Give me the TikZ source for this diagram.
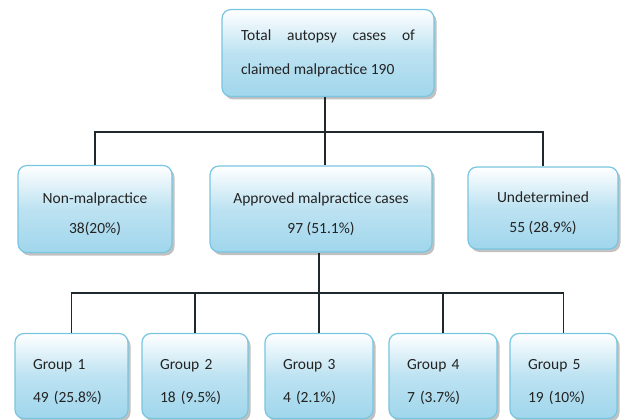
\documentclass[tikz,border=0pt]{standalone}
\usepackage{fontspec}
\setmainfont{Carlito}
\usetikzlibrary{shadows}
\definecolor{boxline}{RGB}{120,198,225}
\definecolor{boxfill}{RGB}{160,214,236}
\definecolor{conn}{RGB}{30,40,45}
\definecolor{txt}{RGB}{35,35,35}
\newcommand{\dn}{\rule{0pt}{22pt}}
\tikzset{
  box/.style={draw=boxline, line width=1.2pt, rounded corners=9pt,
    top color=white, bottom color=boxfill, middle color=white!30!boxfill,
    drop shadow={shadow xshift=2.5pt, shadow yshift=-3pt, fill=black!40, opacity=0.6},
    font=\fontsize{15.5}{18}\selectfont, text=txt, inner sep=0pt, align=center},
  grp/.style={box, align=left, text width=#1-36pt, inner xsep=18pt, minimum height=85pt},
  conn/.style={draw=conn, line width=1.6pt}
}
\begin{document}
\begin{tikzpicture}[x=1pt,y=-1pt]
\useasboundingbox[fill=white] (0,0) rectangle (625,420);
\node[box, minimum width=212pt, minimum height=87pt] (top) at (328,53)
  {\makebox[174pt][s]{Total autopsy cases of}\\[16pt]\makebox[174pt][l]{claimed malpractice 190}};
\node[box, minimum width=154pt, minimum height=87pt] (nonm) at (95,209)
  {\dn Non-malpractice\\[12pt]38(20\%)};
\node[box, minimum width=222pt, minimum height=86pt] (appr) at (321,209)
  {\dn Approved malpractice cases\\[12pt]97 (51.1\%)};
\node[box, minimum width=150pt, minimum height=82pt] (undet) at (543,208)
  {\dn Undetermined\\[12pt]55 (28.9\%)};
\node[grp=113pt] (g1) at (71.5,376) {\dn Group 1\\[15pt]49 (25.8\%)};
\node[grp=106pt] (g2) at (195,376) {\dn Group 2\\[15pt]18 (9.5\%)};
\node[grp=108pt] (g3) at (319,376) {\dn Group 3\\[15pt]4 (2.1\%)};
\node[grp=108pt] (g4) at (443,376) {\dn Group 4\\[15pt]7 (3.7\%)};
\node[grp=107pt] (g5) at (563.5,376) {\dn Group 5\\[15pt]19 (10\%)};
\coordinate (b1) at (325,132);
\coordinate (b2) at (319,293);
\draw[conn] (top.south -| b1) -- (b1);
\draw[conn] (b1) -- (b1 |- appr.north);
\draw[conn] (nonm.north) |- (b1);
\draw[conn] (undet.north) |- (b1);
\draw[conn] (appr.south -| b2) -- (b2);
\draw[conn] (g1.north) |- (b2);
\draw[conn] (g2.north) |- (b2);
\draw[conn] (g3.north) -- (b2);
\draw[conn] (g4.north) |- (b2);
\draw[conn] (g5.north) |- (b2);
\end{tikzpicture}
\end{document}
